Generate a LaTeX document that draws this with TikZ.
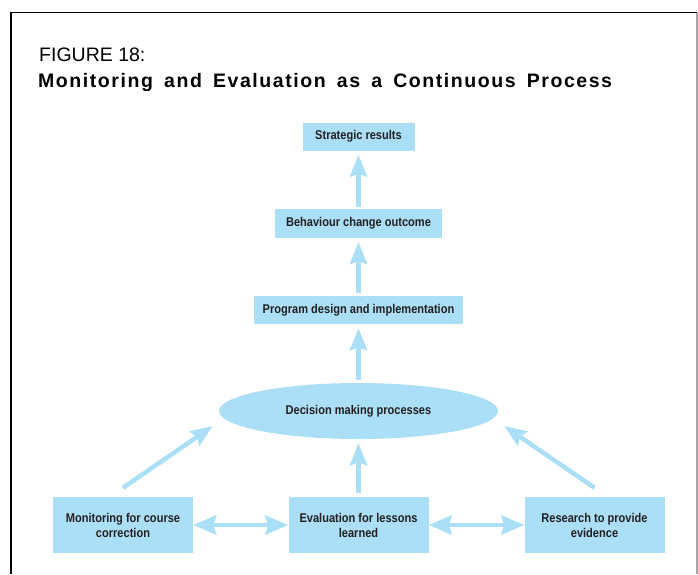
\documentclass[tikz,border=0pt]{standalone}
\usepackage{fontspec}
\setmainfont{Liberation Sans}
\newfontfamily\boxfont[FakeStretch=0.87]{Liberation Sans}
\newfontfamily\titlefont[LetterSpace=8,WordSpace=1.6]{Liberation Sans}
\usetikzlibrary{arrows.meta,shapes.geometric,calc}
\definecolor{mblue}{HTML}{AADFF7}
\definecolor{mtext}{HTML}{231F20}
\tikzset{
  boxnode/.style={fill=mblue, draw=none, inner sep=0pt, align=center,
    font=\boxfont\bfseries\fontsize{12.7}{15}\selectfont, text=mtext},
  ellnode/.style={ellipse, fill=mblue, draw=none, inner sep=0pt,
    minimum width=279pt, minimum height=56pt,
    font=\boxfont\bfseries\fontsize{12.7}{15}\selectfont, text=mtext},
  arr/.style={draw=mblue, line width=4.5pt,
    -{Stealth[length=22pt,width=17pt,inset=3pt]}},
  darr/.style={draw=mblue, line width=4.5pt,
    {Stealth[length=23pt,width=19pt,inset=3pt]}-{Stealth[length=23pt,width=19pt,inset=3pt]}},
}
\begin{document}
\begin{tikzpicture}[x=1pt,y=-1pt]
\useasboundingbox (0,0) rectangle (698,574);
% frame
\draw[line width=1.3pt, black] (11,574) coordinate (fbl) -- (11,12.5) coordinate (ftl) -- (697,12.5) coordinate (ftr);
\draw[line width=1.3pt, black!35] (ftr) -- (697,574) coordinate (fbr);
% titles
\node[anchor=base west, inner sep=0pt, font=\fontsize{19.5}{22}\selectfont] (t1) at (39,61) {FIGURE 18:};
\node[anchor=base west, inner sep=0pt, font=\titlefont\bfseries\fontsize{19.5}{22}\selectfont] (t2) at (38,87.5) {Monitoring and Evaluation as a Continuous Process};
% nodes
\node[boxnode, minimum width=112pt, minimum height=28pt] (sr) at (358.5,136.5) {Strategic results};
\node[boxnode, minimum width=167pt, minimum height=28.5pt] (bc) at (358.5,223.5) {Behaviour change outcome};
\node[boxnode, minimum width=209pt, minimum height=28pt] (pd) at (358.5,310) {Program design and implementation};
\node[ellnode] (dm) at (358.5,411) {Decision making processes};
\node[boxnode, minimum width=140pt, minimum height=56pt] (mon) at (123,525) {Monitoring for course\\correction};
\node[boxnode, minimum width=140pt, minimum height=56pt] (eva) at (358.5,525) {Evaluation for lessons\\learned};
\node[boxnode, minimum width=140pt, minimum height=56pt] (res) at (594.5,525) {Research to provide\\evidence};
% ends of diagonal arrows
\coordinate (ltail) at ($(mon.north)+(0,-9)$);
\coordinate (rtail) at ($(res.north)+(0,-9)$);
\coordinate (ltip) at ($(dm.west)+(-6,15)$);
\coordinate (rtip) at ($(dm.east)+(6,15)$);
% arrows
\draw[arr, shorten <=2pt, shorten >=4pt] (bc.north) -- (sr.south);
\draw[arr, shorten <=3pt, shorten >=4pt] (pd.north) -- (bc.south);
\draw[arr, shorten <=3pt, shorten >=4pt] (dm.north) -- (pd.south);
\draw[arr, shorten <=4pt, shorten >=4pt] (eva.north) -- (dm.south);
\draw[arr] (ltail) -- (ltip);
\draw[arr] (rtail) -- (rtip);
\draw[darr] (mon.east) -- (eva.west);
\draw[darr] (eva.east) -- (res.west);
\end{tikzpicture}
\end{document}
